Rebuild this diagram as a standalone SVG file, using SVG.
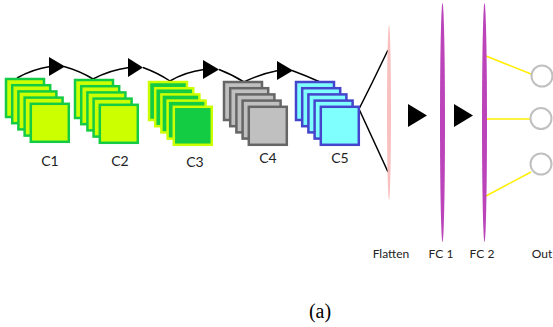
<svg xmlns="http://www.w3.org/2000/svg" width="553" height="327" viewBox="0 0 553 327">
<style>
.g{fill:#ccff00;stroke:#14cc44;stroke-width:2.5}
.c3{fill:#14cc44;stroke:#ccff00;stroke-width:2.5}
.c4{fill:#c0c0c0;stroke:#666666;stroke-width:2.5}
.c5{fill:#80ffff;stroke:#4444cc;stroke-width:2.5}
.lbl{font-family:Lato,"Open Sans",sans-serif;fill:#222;stroke:none;text-anchor:middle}
.cl{font-size:14px}
.bl{font-size:12px}
.tri{fill:#000}
.wire{fill:none;stroke:#000;stroke-width:1.5}
.fc{fill:#bb44bb}
.out{fill:#fff;stroke:#c0c0c0;stroke-width:2}
.y{stroke:#ffee00;stroke-width:1.5}
</style>
<defs>
<g id="stack">
<rect x="0" y="0" width="38" height="38"/>
<rect x="6.2" y="6.2" width="38" height="38"/>
<rect x="12.4" y="12.4" width="38" height="38"/>
<rect x="18.6" y="18.6" width="38" height="38"/>
<rect x="24.8" y="24.8" width="38" height="38"/>
</g>
</defs>
<g id="connectors">
<path class="wire" d="M17,78 Q33,69 50,66.5 M64,66.5 Q80,71 93,79 Q110,70 129,67.5 M143,67.5 Q158,73 170,81 Q185,72 204,69.5 M219,69.5 Q233,75 244,82 Q260,74 278,70.5 M292,70.5 Q307,76 320,82"/>
<polygon class="tri" points="49,57 49,76 65,66.5"/>
<polygon class="tri" points="128,58 128,77 143,67.5"/>
<polygon class="tri" points="203,60 203,79 219,69.5"/>
<polygon class="tri" points="277,61 277,80 293,70.5"/>
<path class="wire" d="M359,109 L372,83 L388,50 M359,109 L388,172"/>
<polygon class="tri" points="408,104 408,127 427,115.5"/>
<polygon class="tri" points="454,104 454,127 473,115.5"/>
<line class="y" x1="486" y1="56" x2="531" y2="74"/>
<line class="y" x1="486" y1="119" x2="530" y2="119"/>
<line class="y" x1="486" y1="196" x2="531" y2="172"/>
</g>
<g id="C1" class="g"><use href="#stack" x="6" y="79"/><text class="lbl cl" x="50" y="166">C1</text></g>
<g id="C2" class="g"><use href="#stack" x="75" y="80"/><text class="lbl cl" x="120" y="166">C2</text></g>
<g id="C3" class="c3"><use href="#stack" x="149" y="82"/><text class="lbl cl" x="195" y="167">C3</text></g>
<g id="C4" class="c4"><use href="#stack" x="224" y="82"/><text class="lbl cl" x="268" y="163">C4</text></g>
<g id="C5" class="c5"><use href="#stack" x="296" y="82"/><text class="lbl cl" x="340" y="163">C5</text></g>
<g id="Flatten"><ellipse cx="389" cy="112.5" rx="2" ry="87.5" fill="#f9c0c0"/><text class="lbl bl" x="391" y="258">Flatten</text></g>
<g id="FC1"><ellipse class="fc" cx="442.5" cy="122.5" rx="2.5" ry="119.5"/><text class="lbl bl" x="441" y="258">FC 1</text></g>
<g id="FC2"><ellipse class="fc" cx="484.5" cy="122.5" rx="2.5" ry="119.5"/><text class="lbl bl" x="482" y="258">FC 2</text></g>
<g id="Out">
<circle class="out" cx="542" cy="76" r="10.5"/>
<circle class="out" cx="541" cy="118.5" r="10.5"/>
<circle class="out" cx="541" cy="164" r="10.5"/>
<text class="lbl bl" x="542" y="258">Out</text>
</g>
<text x="320" y="318" font-family="Liberation Serif,serif" font-size="20" text-anchor="middle" fill="#000">(a)</text>
</svg>
